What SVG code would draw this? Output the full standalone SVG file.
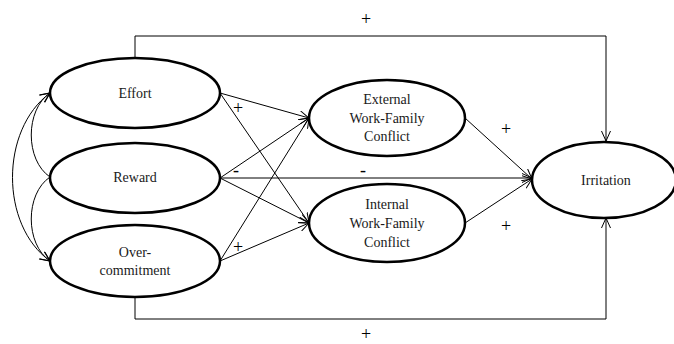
<svg xmlns="http://www.w3.org/2000/svg" width="674" height="344" viewBox="0 0 674 344">
<style>
.node{fill:#fff;stroke:#000;stroke-width:2.5}
.t{font-family:"Liberation Serif","Times New Roman",serif;font-size:14px;fill:#1a1a1a;text-anchor:middle}
.c{fill:none;stroke:#000;stroke-width:1}
.s{font-family:"Liberation Serif","Times New Roman",serif;font-size:18px;fill:#000;text-anchor:middle}
</style>
<defs>
<marker id="a" viewBox="0 0 10 10" refX="10" refY="5" markerWidth="10" markerHeight="10" markerUnits="userSpaceOnUse" orient="auto-start-reverse">
<path d="M0,0.5 L10,5 L0,9.5" fill="none" stroke="#000" stroke-width="1"/>
</marker>
</defs>
<g id="connectors">
<path class="c" d="M135,59 V36 H606 V141" marker-end="url(#a)"/>
<path class="c" d="M135,296 V319 H606 V218" marker-end="url(#a)"/>
<path class="c" d="M50,93 C25,110 25,160 50,177" marker-start="url(#a)"/>
<path class="c" d="M50,177 C25,194 25,244 50,261" marker-end="url(#a)"/>
<path class="c" d="M50,93 C0,130 0,225 50,261" marker-start="url(#a)" marker-end="url(#a)"/>
<path class="c" d="M220,93 L309,118" marker-end="url(#a)"/>
<path class="c" d="M220,93 L309,223" marker-end="url(#a)"/>
<path class="c" d="M220,178 L309,118" marker-end="url(#a)"/>
<path class="c" d="M220,178 L309,223" marker-end="url(#a)"/>
<path class="c" d="M220,178 L532,178" marker-end="url(#a)"/>
<path class="c" d="M220,261 L309,118" marker-end="url(#a)"/>
<path class="c" d="M220,261 L309,223" marker-end="url(#a)"/>
<path class="c" d="M465,118 L532,179" marker-end="url(#a)"/>
<path class="c" d="M465,223 L532,179" marker-end="url(#a)"/>
<text class="s" x="366" y="25">+</text>
<text class="s" x="366" y="340">+</text>
<text class="s" x="238" y="114">+</text>
<text class="s" x="236" y="176">-</text>
<text class="s" x="363" y="176">-</text>
<text class="s" x="238" y="253">+</text>
<text class="s" x="506" y="135">+</text>
<text class="s" x="506" y="232">+</text>
</g>
<g id="effort"><ellipse class="node" cx="135" cy="93" rx="85" ry="35"/><text class="t" x="135" y="98">Effort</text></g>
<g id="reward"><ellipse class="node" cx="135" cy="178" rx="85" ry="35"/><text class="t" x="135" y="182">Reward</text></g>
<g id="overcommitment"><ellipse class="node" cx="135" cy="261" rx="85" ry="36"/><text class="t" x="135" y="257">Over-</text><text class="t" x="135" y="275">commitment</text></g>
<g id="external"><ellipse class="node" cx="387" cy="118" rx="78" ry="38"/><text class="t" x="387" y="104">External</text><text class="t" x="387" y="123">Work-Family</text><text class="t" x="387" y="141">Conflict</text></g>
<g id="internal"><ellipse class="node" cx="387" cy="223" rx="78" ry="39"/><text class="t" x="387" y="209">Internal</text><text class="t" x="387" y="228">Work-Family</text><text class="t" x="387" y="247">Conflict</text></g>
<g id="irritation"><ellipse class="node" cx="604" cy="180" rx="72" ry="38"/><text class="t" x="606" y="185">Irritation</text></g>
</svg>
